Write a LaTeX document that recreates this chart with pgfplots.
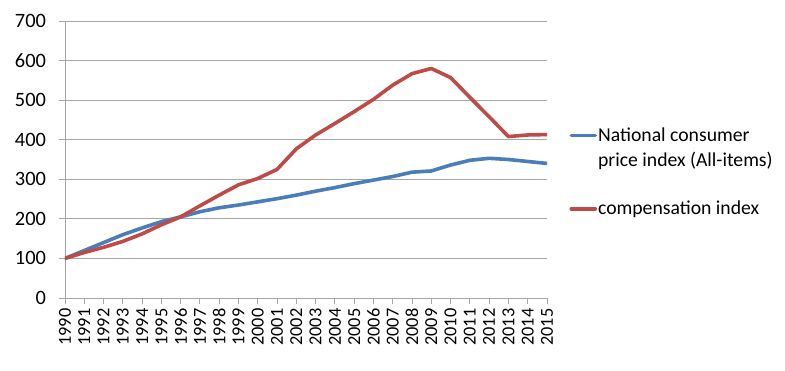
\documentclass[border=0pt]{standalone}
\usepackage{pgfplots}
\pgfplotsset{compat=1.18}
\usepackage{fontspec}
\setmainfont{Carlito}
\definecolor{cpiblue}{HTML}{4A7EBB}
\definecolor{compred}{HTML}{BE4B48}
\definecolor{gridgray}{HTML}{A6A6A6}
\begin{document}
\begin{tikzpicture}
\useasboundingbox (-65pt,-73pt) rectangle (720pt,298pt);
\begin{axis}[
  at={(0,0)}, anchor=south west,
  scale only axis, width=482pt, height=277pt,
  xmin=1990, xmax=2015, ymin=0, ymax=700,
  xtick={1990,...,2015}, ytick={0,100,...,700},
  /pgf/number format/assume math mode=true,
  xticklabel={\pgfmathprintnumber[1000 sep=]{\tick}},
  xticklabel style={rotate=90, anchor=east, font=\fontsize{18.3}{20}\selectfont, inner sep=4pt},
  yticklabel style={font=\fontsize{20.4}{22}\selectfont, xshift=-9pt},
  tick align=outside, major tick length=6.5pt,
  tick style={gridgray, line width=0.9pt},
  ymajorgrids, grid style={gridgray, line width=0.9pt},
  axis x line*=bottom, axis y line*=left,
  axis line style={gridgray, line width=0.9pt, -},
  every axis plot/.append style={line width=3.6pt, line join=round, line cap=round},
  legend style={at={(1.04,0.625)}, anchor=north west, draw=none, fill=none,
    font=\fontsize{19.7}{25}\selectfont, nodes={align=left, inner sep=1pt},
    row sep=31pt},
  legend cell align=left,
  legend image code/.code={\draw[#1, line cap=round] (0pt,0pt) -- (24pt,0pt);},
]
\addplot[cpiblue, legend image code/.code={\draw[cpiblue, line width=3.6pt, line cap=round] (0pt,12.5pt) -- (24pt,12.5pt);}] coordinates {
(1990,100) (1991,120) (1992,140) (1993,160) (1994,177) (1995,193) (1996,205)
(1997,218) (1998,228) (1999,235) (2000,243) (2001,251) (2002,260) (2003,270)
(2004,279) (2005,289) (2006,298) (2007,307) (2008,318) (2009,321) (2010,336)
(2011,348) (2012,353) (2013,350) (2014,345) (2015,340)};
\addlegendentry{National consumer\\price index (All-items)}
\addplot[compred] coordinates {
(1990,100) (1991,115) (1992,128) (1993,143) (1994,162) (1995,185) (1996,205)
(1997,233) (1998,260) (1999,286) (2000,302) (2001,325) (2002,377) (2003,412)
(2004,441) (2005,471) (2006,502) (2007,538) (2008,567) (2009,580) (2010,557)
(2011,507) (2012,458) (2013,408) (2014,412) (2015,413)};
\addlegendentry{compensation index}
\end{axis}
\end{tikzpicture}
\end{document}
